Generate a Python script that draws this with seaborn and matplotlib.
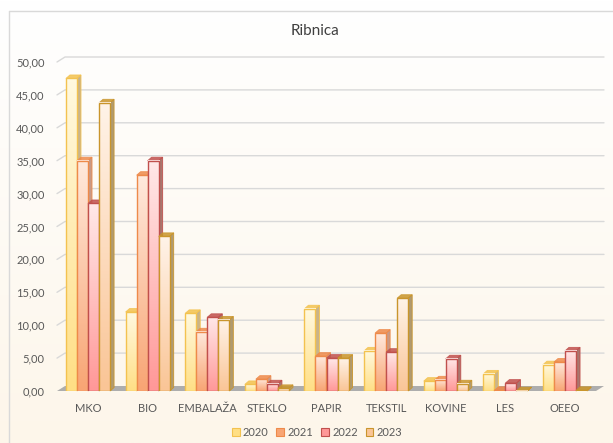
import numpy as np
import pandas as pd
import matplotlib
matplotlib.use('Agg')
import matplotlib.pyplot as plt
import seaborn as sns
from matplotlib.patches import Polygon, Rectangle
from matplotlib.lines import Line2D
from matplotlib.colors import LinearSegmentedColormap

# data
categories = ['MKO', 'BIO', 'EMBALAŽA', 'STEKLO', 'PAPIR', 'TEKSTIL', 'KOVINE', 'LES', 'OEEO']
years = ['2020', '2021', '2022', '2023']
v2020 = [47.5, 12.0, 11.8, 1.0, 12.5, 6.1, 1.5, 2.6, 4.0]
v2021 = [35.0, 32.8, 9.0, 1.8, 5.3, 8.8, 1.7, 0.1, 4.4]
v2022 = [28.5, 35.0, 11.2, 1.1, 5.0, 5.9, 4.9, 1.2, 6.1]
v2023 = [43.8, 23.5, 10.8, 0.4, 5.0, 14.1, 1.1, 0.05, 0.1]
yticks = [0, 5, 10, 15, 20, 25, 30, 35, 40, 45, 50]

# colours: light top, darker bottom of the gradient, outline, side
light = ['#FFF9E0', '#FFE9DC', '#FFE8E8', '#FFF3E8']
dark = ['#FFDF85', '#F8A574', '#FF9898', '#FAC596']
edges = ['#F3C24F', '#EE8A4A', '#C0504D', '#C9952C']
sides = ['#C9B48A', '#C99A86', '#A9766E', '#B09A70']

sns.set_style('white')
plt.rcParams['font.family'] = ['Lato', 'DejaVu Sans']

df = pd.DataFrame({
    'kategorija': categories * 4,
    'leto': [y for y in years for _ in categories],
    'vrednost': v2020 + v2021 + v2022 + v2023,
})

W, H = 613, 443
fig = plt.figure(figsize=(W / 100, H / 100), dpi=100)

# background gradient
bg = fig.add_axes([0, 0, 1, 1], zorder=-1)
bg.imshow(np.linspace(0, 1, 256).reshape(-1, 1), aspect='auto', extent=[0, 1, 0, 1],
          cmap=LinearSegmentedColormap.from_list('bg', ['#FFFFFF', '#FDF6EA']), origin='upper')
bg.axis('off')

ax_l, ax_r, ax_top, ax_bot = 57, 596, 62, 391
ax = fig.add_axes([ax_l / W, (H - ax_bot) / H, (ax_r - ax_l) / W, (ax_bot - ax_top) / H])
ax.set_facecolor('none')

sns.barplot(data=df, x='kategorija', y='vrednost', hue='leto', palette=dark,
            width=0.74, gap=0, saturation=1, ax=ax, legend=False)

xlo, xhi = -0.52, 8.52
ax.set_xlim(xlo, xhi)
ax.set_ylim(0, 50)
sx = (ax_r - ax_l) / (xhi - xlo)
sy = (ax_bot - ax_top) / 50.0

# depth of the wall / floor and of each bar (pixels -> data)
ddx, ddy = 8 / sx, 5 / sy
bdx, bdy = 4 / sx, 3.5 / sy

# floor
ax.add_patch(Polygon([(xlo, 0), (xhi, 0), (xhi + ddx, ddy), (xlo + ddx, ddy)],
                     closed=True, facecolor='#ADADAD', edgecolor='none', zorder=0.5, clip_on=False))
# gridlines on back wall
for v in yticks[1:]:
    ax.add_line(Line2D([xlo, xlo + ddx, xhi + ddx], [v, v + ddy, v + ddy],
                       color='#D9D9D9', lw=1, zorder=0.2, clip_on=False))

# 3D-ish bars
for i, cont in enumerate(ax.containers):
    cmap = LinearSegmentedColormap.from_list('g%d' % i, [dark[i], light[i]])
    for p in cont.patches:
        x0, w, h = p.get_x(), p.get_width(), p.get_height()
        z = 2 + i * 0.1
        ax.add_patch(Polygon([(x0 + w, 0), (x0 + w + bdx, bdy), (x0 + w + bdx, h + bdy), (x0 + w, h)],
                             closed=True, facecolor=sides[i], edgecolor=edges[i], lw=0.6, zorder=z, clip_on=False))
        ax.add_patch(Polygon([(x0, h), (x0 + w, h), (x0 + w + bdx, h + bdy), (x0 + bdx, h + bdy)],
                             closed=True, facecolor=edges[i], edgecolor=edges[i], lw=0.6, alpha=0.85,
                             zorder=z, clip_on=False))
        ax.imshow(np.linspace(0, 1, 64).reshape(-1, 1), extent=[x0, x0 + w, 0, h], aspect='auto',
                  origin='lower', cmap=cmap, zorder=z + 0.01, interpolation='bilinear')
        p.set_facecolor('none')
        p.set_edgecolor(edges[i])
        p.set_linewidth(1.0)
        p.set_zorder(z + 0.02)

ax.set_xlim(xlo, xhi)
ax.set_ylim(0, 50)
ax.set_yticks(yticks)
ax.set_yticklabels([('%.2f' % v).replace('.', ',') for v in yticks])
ax.set_xticks(range(len(categories)))
ax.set_xticklabels(categories)
ax.tick_params(axis='y', length=0, pad=9, labelsize=8, labelcolor='#595959')
ax.tick_params(axis='x', length=0, pad=9, labelsize=8, labelcolor='#595959')
ax.set_xlabel('')
ax.set_ylabel('')
for s in ax.spines.values():
    s.set_visible(False)

fig.text(315 / W, 1 - 31 / H, 'Ribnica', ha='center', va='center', fontsize=11, color='#404040')

handles = [Rectangle((0, 0), 1, 1, facecolor=dark[i], edgecolor=edges[i], lw=0.8) for i in range(4)]
fig.legend(handles, years, loc='center', bbox_to_anchor=(317 / W, 1 - 432 / H), ncol=4, frameon=False,
           fontsize=8, handlelength=0.7, handleheight=0.7, handletextpad=0.3, columnspacing=0.7,
           labelcolor='#595959')

# chart border (top / left visible in the crop)
fig.add_artist(Line2D([8.5 / W, 8.5 / W], [0, 1 - 10.5 / H], color='#D9D9D9', lw=1))
fig.add_artist(Line2D([8.5 / W, 1], [1 - 10.5 / H, 1 - 10.5 / H], color='#D9D9D9', lw=1))

fig.savefig('out.png', dpi=100)
